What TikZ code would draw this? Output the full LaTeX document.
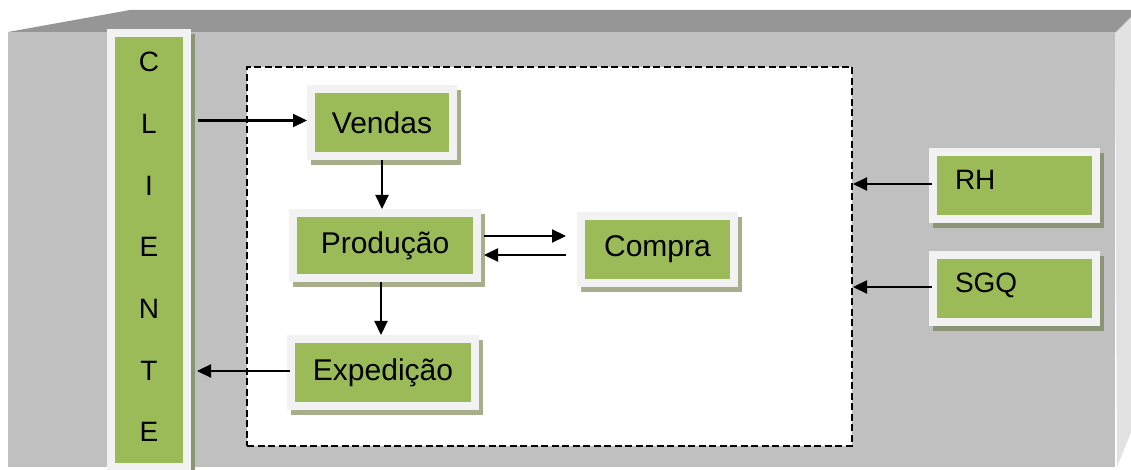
\documentclass[tikz,border=0pt]{standalone}
\usepackage{fontspec}
\setmainfont{Liberation Sans}
\usetikzlibrary{arrows.meta,calc}
\definecolor{grn}{HTML}{9BBB59}
\definecolor{bwhite}{HTML}{F2F2F2}
\definecolor{frontc}{HTML}{C0C0C0}
\definecolor{topc}{HTML}{969696}
\definecolor{sidec}{HTML}{E2E2E2}
\definecolor{shadw}{RGB}{168,173,140}
\definecolor{shadg}{RGB}{140,148,118}
\begin{document}
\begin{tikzpicture}[x=0.5pt,y=-0.5pt,
  gbox/.style={fill=grn, draw=bwhite, line width=4pt, inner sep=0pt,
    font=\fontsize{15}{18}\selectfont},
  shw/.style={preaction={fill=shadw, draw=shadw, transform canvas={shift={(2pt,-2.5pt)}}}},
  shg/.style={preaction={fill=shadg, draw=shadg, transform canvas={shift={(2pt,-2.5pt)}}}},
  arr/.style={line width=1.1pt, -{Triangle[length=7pt,width=6.5pt]}},
  sidebox/.style={gbox, shg, minimum width=81.5pt, minimum height=33.5pt,
    text width=59.5pt, align=left, text depth=6pt, font=\fontsize{14}{17}\selectfont}]
\useasboundingbox (0,0) rectangle (1131,470);
\clip (0,0) rectangle (1131,470);
% block
\fill[topc] (8,32) -- (130,10) -- (1150,10) -- (1115,33) -- cycle;
\fill[sidec] (1115,33) -- (1140,8) -- (1140,410) -- (1117,467) -- cycle;
\fill[frontc] (8,32) rectangle (1115,467);
% cliente
\node[gbox, shg, minimum width=38pt, minimum height=217pt, align=center, text depth=3pt,
  font=\fontsize{14}{30.85}\selectfont] (cli) at (149,250) {C\\L\\I\\E\\N\\T\\E};
% dashed area
\node[draw, fill=white, line width=1pt, dash pattern=on 3.5pt off 1.75pt,
  minimum width=302.5pt, minimum height=189.5pt, inner sep=0pt] (dash) at (549.5,256.5) {};
% process boxes
\node[gbox, shw, minimum width=71pt, minimum height=33.5pt] (v) at (382,122.5) {Vendas};
\node[gbox, shw, minimum width=92pt, minimum height=32.5pt] (p) at (385,245.5) {Produção};
\node[gbox, shw, minimum width=76.5pt, minimum height=33.5pt] (c) at (657.5,249.5) {Compra};
\node[gbox, shw, minimum width=92pt, minimum height=33.5pt] (e) at (383,372.5) {Expedição};
\node[sidebox] (rh) at (1014.5,185.5) {RH};
\node[sidebox] (sgq) at (1014.5,289) {SGQ};
% connectors
\draw[arr] ($(cli.east |- v.west)+(7,-2)$) -- ($(v.west)+(0,-2)$);
\draw[arr] (v.south) -- (v.south |- p.north);
\draw[arr] ($(p.east)+(3,-9.5)$) -- ($(c.west |- p.east)+(-11,-9.5)$);
\draw[arr] ($(c.west |- p.east)+(-11,9.5)$) -- ($(p.east)+(3,9.5)$);
\draw[arr] ($(p.south)+(-4,0)$) -- ($(p.south |- e.north)+(-4,0)$);
\draw[arr] ($(e.west)+(3,-1.5)$) -- ($(cli.east |- e.west)+(6,-1.5)$);
\draw[arr] ($(rh.west)+(3,-1.5)$) -- ($(dash.east |- rh.west)+(0,-1.5)$);
\draw[arr] ($(sgq.west)+(3,-2)$) -- ($(dash.east |- sgq.west)+(0,-2)$);
\end{tikzpicture}
\end{document}
